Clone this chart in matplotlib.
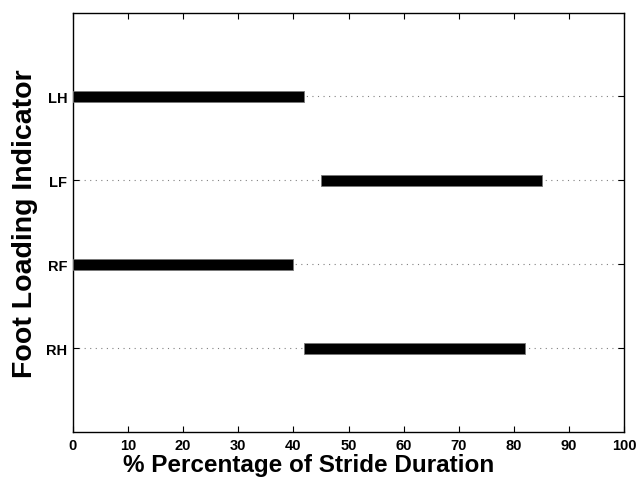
import matplotlib.pyplot as plt

# stance phase of each foot, as % of stride
feet = ['RH', 'RF', 'LF', 'LH']
stance_start = [42, 0, 45, 0]
stance_end = [82, 40, 85, 42]

plt.rcParams['font.family'] = ['Liberation Sans', 'DejaVu Sans']

fig = plt.figure(figsize=(6.39, 4.85), dpi=100)
ax = fig.add_axes([0.114, 0.107, 0.863, 0.865])

pos = list(range(1, len(feet) + 1))
for y in pos:
    ax.axhline(y, color='#808080', linestyle=(0, (1, 4)), linewidth=0.8, zorder=1)

widths = [e - s for s, e in zip(stance_start, stance_end)]
ax.barh(pos, widths, left=stance_start, height=0.13, color='black',
        edgecolor='#777777', linewidth=0.6, zorder=3)

ax.set_xlim(0, 100)
ax.set_ylim(0, 5)
ax.set_xticks(range(0, 101, 10))
ax.set_yticks(pos)
ax.set_yticklabels(feet)
ax.tick_params(direction='in', top=True, right=True, length=4, width=0.8,
               labelsize=10.5, pad=4)
for lab in ax.get_xticklabels() + ax.get_yticklabels():
    lab.set_fontweight('bold')
for sp in ax.spines.values():
    sp.set_linewidth(1.0)

ax.set_xlabel('% Percentage of Stride Duration', fontsize=17.5,
              fontweight='bold', labelpad=5)
ax.xaxis.set_label_coords(0.427, -0.05, transform=ax.transAxes)
ax.xaxis.label.set_verticalalignment('top')
ax.set_ylabel('Foot Loading Indicator', fontsize=20.5,
              fontweight='bold', labelpad=6)

fig.savefig('out.png', dpi=100)
